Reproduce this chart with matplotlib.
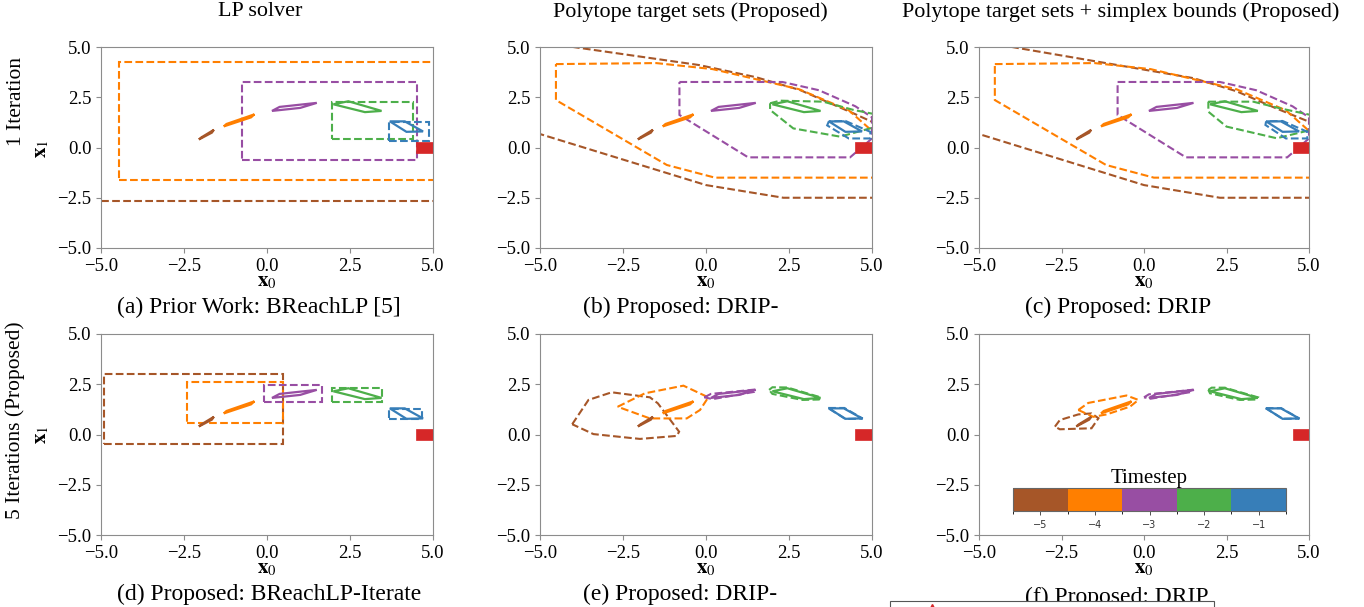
import matplotlib
matplotlib.use("Agg")
import matplotlib.pyplot as plt
from matplotlib.patches import Polygon, Rectangle
from matplotlib.colors import ListedColormap, BoundaryNorm
from matplotlib.lines import Line2D
import matplotlib.cm as cm

plt.rcParams['font.family'] = ['Liberation Serif', 'DejaVu Serif']
plt.rcParams['mathtext.fontset'] = 'stix'

# ---------------- data ----------------
timesteps = [-5, -4, -3, -2, -1]
step_colors = ['#a65628', '#ff7f00', '#984ea3', '#4daf4a', '#377eb8']
goal_color = '#d62728'

col_titles = ["LP solver", "Polytope target sets (Proposed)",
              "Polytope target sets + simplex bounds (Proposed)"]
row_labels = ["1 Iteration", "5 Iterations (Proposed)"]
captions = ["(a) Prior Work: BReachLP [5]", "(b) Proposed: DRIP-", "(c) Proposed: DRIP",
            "(d) Proposed: BReachLP-Iterate", "(e) Proposed: DRIP-", "(f) Proposed: DRIP"]
axis_ticks = [-5.0, -2.5, 0.0, 2.5, 5.0]

goal_box = [(4.5, -0.25), (5.0, -0.25), (5.0, 0.25), (4.5, 0.25)]

# true backprojection sets (solid), timesteps -5..-1
true_brown = [(-2.05, 0.40), (-1.98, 0.50), (-1.60, 0.88), (-1.66, 0.74)]
true_orange = [(-1.30, 1.05), (-1.22, 1.17), (-0.38, 1.65), (-0.48, 1.50)]
true_purple = [(0.15, 1.82), (0.38, 2.02), (1.50, 2.22), (1.00, 1.97)]
true_green = [(2.00, 2.15), (2.45, 2.30), (3.45, 1.82), (2.95, 1.76)]
true_blue = [(3.70, 1.30), (4.15, 1.30), (4.70, 0.80), (4.20, 0.78)]
true_sets = [true_brown, true_orange, true_purple, true_green, true_blue]

# (a) LP solver, 1 iteration (boxes)
a_brown = [(-6.0, -2.66), (6.0, -2.66), (6.0, 6.0), (-6.0, 6.0)]
a_orange = [(-4.45, -1.63), (5.6, -1.63), (5.6, 4.27), (-4.45, 4.27)]
a_purple = [(-0.76, -0.61), (4.53, -0.61), (4.53, 3.26), (-0.76, 3.26)]
a_green = [(1.95, 0.41), (4.41, 0.41), (4.41, 2.28), (1.95, 2.28)]
a_blue = [(3.68, 0.34), (4.88, 0.34), (4.88, 1.27), (3.68, 1.27)]

# (b) polytope target sets, 1 iteration
b_brown = [(-6.0, 5.6), (-4.0, 5.0), (-0.2, 4.1), (1.5, 3.5), (2.83, 2.86), (4.44, 1.70),
           (5.5, 0.9), (5.5, -2.5), (2.33, -2.5), (0.0, -1.87), (-5.0, 0.67), (-6.0, 1.0)]
b_orange = [(-4.52, 4.15), (-1.5, 4.2), (0.2, 3.9), (2.8, 2.9), (4.3, 1.85), (4.95, 0.9),
            (5.5, 0.4), (5.5, -1.5), (0.27, -1.5), (-1.18, -0.87), (-4.52, 2.36)]
b_purple = [(-0.80, 3.26), (2.3, 3.26), (3.4, 2.85), (4.5, 2.05), (5.0, 1.5), (5.0, 0.45),
            (4.34, -0.49), (1.27, -0.49), (-0.80, 1.62)]
b_green = [(1.93, 2.20), (2.23, 2.33), (3.53, 2.28), (4.44, 1.87), (5.05, 1.67),
           (5.05, 1.0), (4.04, 0.54), (2.63, 0.95), (1.93, 1.87)]
b_blue = [(3.70, 1.30), (3.65, 1.10), (4.30, 0.45), (4.95, 0.45), (4.95, 0.78), (4.20, 1.32)]

# (c) polytope target sets + simplex bounds, 1 iteration
c_brown = [(-6.0, 5.6), (-4.0, 5.0), (-0.8, 4.1), (1.5, 3.45), (2.8, 2.8), (4.0, 1.95),
           (5.5, 0.95), (5.5, -2.5), (2.30, -2.5), (0.0, -1.87), (-5.0, 0.67), (-6.0, 1.0)]
c_orange = [(-4.52, 4.15), (-1.5, 4.2), (0.2, 3.9), (2.8, 2.9), (4.3, 1.85), (4.95, 0.9),
            (5.5, 0.4), (5.5, -1.5), (0.30, -1.5), (-1.15, -0.87), (-4.52, 2.36)]
c_purple = [(-0.80, 3.26), (2.3, 3.26), (3.4, 2.85), (4.5, 2.05), (5.0, 1.5), (5.0, 0.45),
            (4.34, -0.49), (1.27, -0.49), (-0.80, 1.62)]
c_green = [(1.95, 2.28), (3.31, 2.28), (4.12, 1.95), (5.05, 1.62), (5.05, 0.87),
           (4.02, 0.46), (2.50, 1.04), (1.95, 1.78)]
c_blue = [(3.70, 1.30), (3.68, 1.12), (4.30, 0.45), (4.95, 0.45), (4.95, 0.78), (4.20, 1.32)]

# (d) BReachLP-Iterate, 5 iterations (boxes)
d_brown = [(-4.91, -0.46), (0.49, -0.46), (0.49, 2.99), (-4.91, 2.99)]
d_orange = [(-2.40, 0.59), (0.47, 0.59), (0.47, 2.63), (-2.40, 2.63)]
d_purple = [(-0.08, 1.60), (1.65, 1.60), (1.65, 2.46), (-0.08, 2.46)]
d_green = [(1.95, 1.60), (3.45, 1.60), (3.45, 2.29), (1.95, 2.29)]
d_blue = [(3.68, 0.76), (4.68, 0.76), (4.68, 1.27), (3.68, 1.27)]

# (e) DRIP-, 5 iterations
e_brown = [(-4.03, 0.51), (-3.54, 1.72), (-2.84, 2.10), (-1.69, 1.85), (-1.45, 1.55),
           (-0.81, 0.14), (-0.88, -0.07), (-1.99, -0.22), (-3.39, 0.02)]
e_orange = [(-2.66, 1.38), (-1.84, 2.05), (-0.68, 2.43), (0.07, 1.85), (-0.18, 1.22),
            (-0.58, 0.80), (-1.69, 0.80)]
e_purple = [(-0.05, 1.85), (0.15, 2.02), (1.50, 2.24), (1.45, 2.12), (0.20, 1.76)]
e_green = [(1.90, 2.22), (2.00, 2.35), (2.45, 2.34), (3.45, 1.85), (3.40, 1.74),
           (2.90, 1.72), (2.00, 2.02)]
e_blue = [(3.68, 1.32), (4.17, 1.32), (4.72, 0.79), (4.20, 0.77)]

# (f) DRIP, 5 iterations
f_brown = [(-2.70, 0.39), (-2.55, 0.72), (-1.99, 1.00), (-1.59, 1.05), (-1.38, 0.81),
           (-1.59, 0.31), (-2.55, 0.26)]
f_orange = [(-1.99, 1.22), (-1.69, 1.57), (-0.53, 1.94), (-0.17, 1.72), (-0.42, 1.39),
            (-1.13, 1.00), (-1.54, 0.88)]
f_purple = [(0.00, 1.85), (0.15, 2.00), (1.50, 2.23), (1.45, 2.12), (0.20, 1.78)]
f_green = [(1.95, 2.22), (2.05, 2.33), (2.45, 2.33), (3.45, 1.85), (3.40, 1.74),
           (2.90, 1.72), (2.00, 2.05)]
f_blue = [(3.69, 1.31), (4.16, 1.31), (4.71, 0.79), (4.20, 0.78)]

panel_sets = [
    [a_brown, a_orange, a_purple, a_green, a_blue],
    [b_brown, b_orange, b_purple, b_green, b_blue],
    [c_brown, c_orange, c_purple, c_green, c_blue],
    [d_brown, d_orange, d_purple, d_green, d_blue],
    [e_brown, e_orange, e_purple, e_green, e_blue],
    [f_brown, f_orange, f_purple, f_green, f_blue],
]

# ---------------- figure ----------------
W, H = 1364, 607
fig = plt.figure(figsize=(W / 100, H / 100), dpi=100)

def fx(px):
    return px / W

def fy(py):
    return 1 - py / H

col_left = [101, 540, 979]
col_width = [332, 332, 330]
row_top = [47, 334]
ax_h = 201
spine_c = '#8c8c8c'

axes = []
for r in range(2):
    for c in range(3):
        ax = fig.add_axes([fx(col_left[c]), fy(row_top[r] + ax_h), col_width[c] / W, ax_h / H])
        axes.append(ax)

for i, ax in enumerate(axes):
    ax.set_xlim(-5, 5)
    ax.set_ylim(-5, 5)
    ax.set_xticks(axis_ticks)
    ax.set_yticks(axis_ticks)
    ax.set_xticklabels([f"{v:.1f}".replace('-', '\u2212') for v in axis_ticks])
    ax.set_yticklabels([f"{v:.1f}".replace('-', '\u2212') for v in axis_ticks])
    ax.tick_params(labelsize=13.5, color=spine_c, length=3.5, width=0.8)
    for s in ax.spines.values():
        s.set_color(spine_c)
    dashed = panel_sets[i]
    for verts, col in zip(dashed, step_colors):
        ax.add_patch(Polygon(verts, closed=True, fill=False, ec=col, ls='--', lw=1.5))
    for verts, col in zip(true_sets, step_colors):
        ax.add_patch(Polygon(verts, closed=True, fill=False, ec=col, ls='-', lw=1.6))
    ax.add_patch(Polygon(goal_box, closed=True, fc=goal_color, ec=goal_color, lw=0.5))

# column titles
title_x = [260, 690, 1121]
for c in range(3):
    fig.text(fx(title_x[c]), fy(12), col_titles[c], ha='center', va='center', fontsize=15.9)

# row labels and y labels
fig.text(fx(17), fy(102), row_labels[0], rotation=90, ha='center', va='center', fontsize=15.5)
fig.text(fx(15), fy(420), row_labels[1], rotation=90, ha='center', va='center', fontsize=15.5)
for r, yc in enumerate([149, 435]):
    fig.text(fx(42), fy(yc), r'$\mathbf{x}_1$', rotation=90, ha='center', va='center', fontsize=15)

# x labels and captions
cap_left = [117, 583, 1025]
for r in range(2):
    bottom = row_top[r] + ax_h
    for c in range(3):
        cx = col_left[c] + col_width[c] / 2
        fig.text(fx(cx), fy(bottom + 34), r'$\mathbf{x}_0$', ha='center', va='center', fontsize=15)
        fig.text(fx(cap_left[c]), fy(bottom + 59 + (3 if (r == 1 and c == 2) else 0)),
                 captions[r * 3 + c], ha='left', va='center', fontsize=17, zorder=1)

# colorbar in panel f
cmap = ListedColormap(step_colors)
bounds = [t - 0.5 for t in timesteps] + [timesteps[-1] + 0.5]
norm = BoundaryNorm(bounds, cmap.N)
cax = fig.add_axes([fx(1013), fy(511), 273 / W, 23 / H])
cb = fig.colorbar(cm.ScalarMappable(norm=norm, cmap=cmap), cax=cax, orientation='horizontal',
                  ticks=timesteps)
cb.outline.set_edgecolor('#666666')
cax.tick_params(labelsize=7, colors='#333333', length=3, width=0.6)
for lab in cax.get_xticklabels():
    lab.set_family('DejaVu Sans')
cax.set_title("Timestep", fontsize=15, pad=1)

# clipped box at the bottom (partial legend of another figure)
box = Rectangle((fx(890), fy(640)), (1214 - 890) / W, (640 - 601) / H, transform=fig.transFigure,
                fc='white', ec='#555555', lw=0.8, zorder=10)
fig.add_artist(box)
fig.add_artist(Line2D([fx(932)], [fy(610)], marker='^', color='#d62728', markersize=9,
                      transform=fig.transFigure, zorder=11))

fig.savefig("out.png", dpi=100)
